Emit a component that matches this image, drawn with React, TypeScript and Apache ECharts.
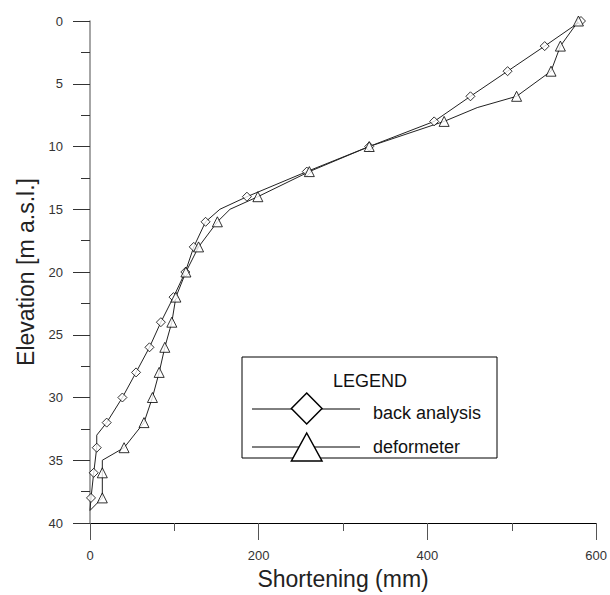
import React, { useEffect, useRef } from "react";
import * as echarts from "echarts";

// Elevation (m a.s.l.) of the marker points
const elevations = [0, 2, 4, 6, 8, 10, 12, 14, 16, 18, 20, 22, 24, 26, 28, 30, 32, 34, 36, 38];
// Shortening (mm)
const backAnalysis = [582, 539, 495, 451, 408, 331, 257, 186, 137, 123, 113, 99, 84, 70.5, 54.6, 38.4, 19.8, 8, 4.4, 1.2];
const deformeter = [579, 557.6, 546.5, 505.7, 419.8, 331, 260, 199, 151, 128.7, 113.7, 101.8, 97, 88.7, 82, 74, 64, 40.4, 14.6, 14.6];
// extra bend vertices of the curves [shortening, elevation]
const backBends: [number, number][] = [[154, 15], [8, 33], [0, 39]];
const deformeterBends: [number, number][] = [[459, 6.9], [166, 15], [14.6, 35], [0, 39]];

const xTicks = { min: 0, max: 600, interval: 200 };
const yTicks = { min: 0, max: 40, interval: 5 };

function pathOf(values: number[], bends: [number, number][]) {
  const pts: [number, number][] = values.map((v, i) => [v, elevations[i]]);
  return pts.concat(bends).sort((a, b) => a[1] - b[1]);
}

export default function App() {
  const ref = useRef<HTMLDivElement>(null);
  useEffect(() => {
    if (!ref.current) return;
    const chart = echarts.init(ref.current, undefined, { renderer: "svg" });
    const font = "Liberation Sans, Arial, sans-serif";
    const markerStyle = { color: "#fff", borderColor: "#000", borderWidth: 1 };
    const lineStyle = { color: "#222", width: 1 };
    chart.setOption({
      animation: false,
      backgroundColor: "#fff",
      grid: { left: 90, right: 13, top: 21, bottom: 66 },
      xAxis: {
        type: "value",
        min: xTicks.min,
        max: xTicks.max,
        interval: xTicks.interval,
        name: "Shortening (mm)",
        nameLocation: "middle",
        nameGap: 44,
        nameTextStyle: { fontFamily: font, fontSize: 23, color: "#222" },
        axisLine: { show: true, onZero: false, lineStyle: { color: "#000", width: 1 } },
        axisTick: { show: true, length: 17, lineStyle: { color: "#555" } },
        minorTick: { show: true, splitNumber: 2, length: 8, lineStyle: { color: "#555" } },
        splitLine: { show: false },
        axisLabel: { fontFamily: font, fontSize: 13, color: "#333", margin: 26 },
      },
      yAxis: {
        type: "value",
        inverse: true,
        min: yTicks.min,
        max: yTicks.max,
        interval: yTicks.interval,
        name: "Elevation [m a.s.l.]",
        nameLocation: "middle",
        nameGap: 53,
        nameTextStyle: { fontFamily: font, fontSize: 23, color: "#222" },
        axisLine: { show: true, onZero: false, lineStyle: { color: "#888", width: 1.5 } },
        axisTick: { show: true, length: 17, lineStyle: { color: "#333" } },
        minorTick: { show: true, splitNumber: 2, length: 9, lineStyle: { color: "#333" } },
        splitLine: { show: false },
        axisLabel: { fontFamily: font, fontSize: 13, color: "#333", margin: 27 },
      },
      series: [
        {
          name: "back analysis line",
          type: "line",
          data: pathOf(backAnalysis, backBends),
          showSymbol: false,
          symbol: "none",
          lineStyle,
          z: 2,
        },
        {
          name: "deformeter line",
          type: "line",
          data: pathOf(deformeter, deformeterBends),
          showSymbol: false,
          symbol: "none",
          lineStyle,
          z: 2,
        },
        {
          name: "back analysis",
          type: "scatter",
          data: backAnalysis.map((v, i) => [v, elevations[i]]),
          symbol: "diamond",
          symbolSize: 9,
          itemStyle: markerStyle,
          z: 3,
        },
        {
          name: "deformeter",
          type: "scatter",
          data: deformeter.map((v, i) => [v, elevations[i]]),
          symbol: "triangle",
          symbolSize: 10,
          itemStyle: markerStyle,
          z: 3,
        },
      ],
      graphic: [
        {
          type: "group",
          z: 10,
          children: [
            {
              type: "rect",
              shape: { x: 242, y: 357, width: 255, height: 101 },
              style: { fill: "#fff", stroke: "#000", lineWidth: 1 },
            },
            {
              type: "text",
              x: 370,
              y: 381,
              style: { text: "LEGEND", font: `18px ${font}`, fill: "#111", align: "center", verticalAlign: "middle" },
            },
            { type: "line", shape: { x1: 252, y1: 409, x2: 360, y2: 409 }, style: { stroke: "#000", lineWidth: 1 } },
            {
              type: "polygon",
              shape: { points: [[306.7, 393], [322, 408.5], [306.7, 424], [291.4, 408.5]] },
              style: { fill: "#fff", stroke: "#000", lineWidth: 1.5 },
            },
            {
              type: "text",
              x: 373,
              y: 413,
              style: { text: "back analysis", font: `18px ${font}`, fill: "#111", align: "left", verticalAlign: "middle" },
            },
            { type: "line", shape: { x1: 252, y1: 447, x2: 360, y2: 447 }, style: { stroke: "#000", lineWidth: 1 } },
            {
              type: "polygon",
              shape: { points: [[306.7, 433], [322, 461], [291.4, 461]] },
              style: { fill: "#fff", stroke: "#000", lineWidth: 1.5 },
            },
            {
              type: "text",
              x: 373,
              y: 447,
              style: { text: "deformeter", font: `18px ${font}`, fill: "#111", align: "left", verticalAlign: "middle" },
            },
          ],
        },
      ],
    });
    return () => chart.dispose();
  }, []);
  return <div ref={ref} style={{ width: 610, height: 595, position: "absolute", left: 0, top: 0 }} />;
}
